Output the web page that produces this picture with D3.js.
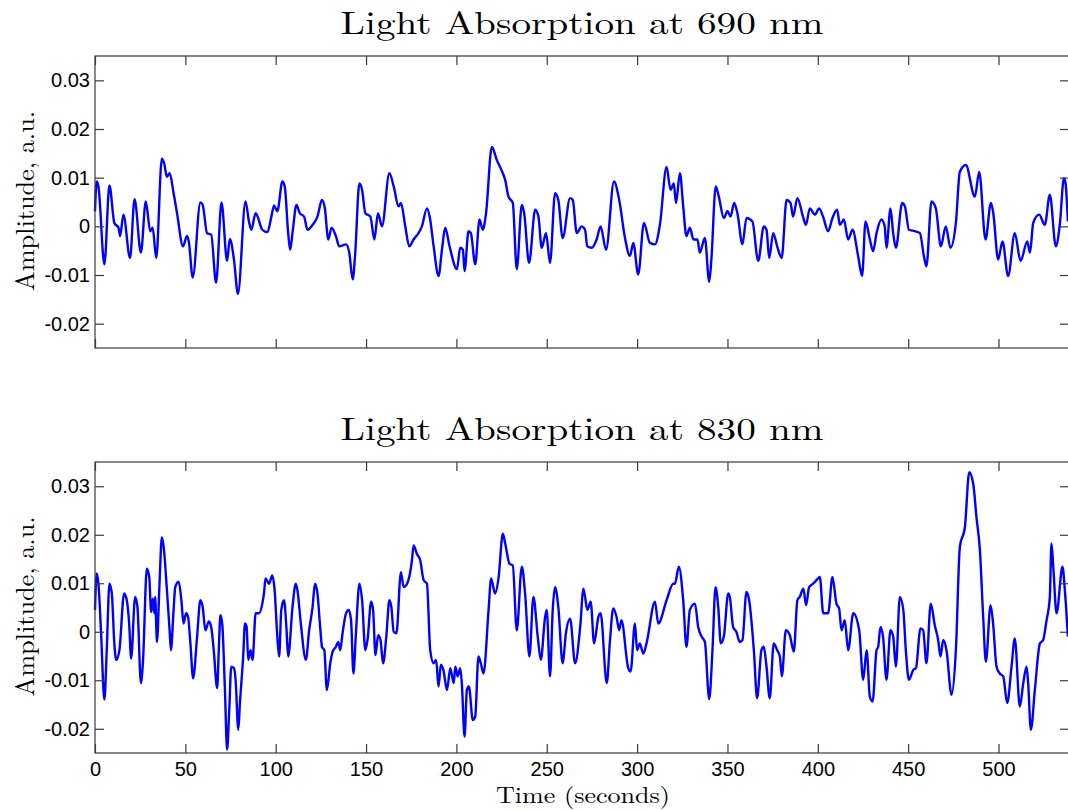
<!DOCTYPE html>
<html>
<head>
<meta charset="utf-8">
<script src="https://cdn.jsdelivr.net/npm/d3@7"></script>
<style>
  body { margin: 0; background: #fff; }
  svg { display: block; }
</style>
</head>
<body>
<svg id="chart" width="1068" height="810"></svg>
<script>
// time in seconds, amplitude in thousandths of a.u.
const t690 = [0,0.9,1.9,5.2,8.0,10.7,13.0,13.9,15.7,19.4,21.9,25.4,28.1,30.6,31.9,33.9,37.0,38.3,39.8,41.3,43.5,45.4,48.7,50.9,51.9,54.1,58.3,59.6,62.0,64.3,67.0,70.0,73.1,74.6,76.9,79.1,83.3,85.2,86.5,88.9,92.6,95.4,97.6,99.1,100.9,103.7,105.0,106.9,108.0,109.4,111.5,113.3,115.7,117.6,120.4,123.1,125.6,127.2,129.1,130.9,133.3,135.2,138.9,140.7,142.6,143.9,146.3,147.8,149.6,152.4,154.6,156.6,158.8,162.9,165.3,168.0,169.3,171.7,173.9,176.3,179.0,180.9,183.7,185.2,187.4,190.1,192.0,193.8,196.2,200.3,202.1,203.6,204.5,206.7,208.0,210.4,212.8,214.6,216.4,219.6,222.4,225.7,227.0,228.8,231.2,233.4,236.2,237.5,240.2,243.6,245.4,247.2,249.6,251.8,254.6,256.4,258.8,262.9,264.4,266.6,269.3,271.2,272.4,274.9,277.6,279.8,282.8,287.2,290.1,293.3,296.0,297.9,300.6,303.8,307.1,309.9,312.6,316.3,318.5,320.3,321.5,323.7,325.5,327.3,329.2,331.2,333.4,334.7,337.5,339.9,341.1,343.5,345.2,348.0,350.0,351.7,353.7,355.5,358.3,360.5,363.8,367.0,370.1,371.6,373.1,375.3,377.5,380.0,382.7,384.9,386.3,388.7,391.8,393.4,395.6,398.4,400.7,402.9,405.7,408.1,410.7,412.2,414.4,416.8,419.2,422.3,424.5,426.4,428.8,430.6,432.5,435.2,437.0,438.0,440.2,441.7,443.2,446.7,448.2,450.4,453.7,456.5,458.7,460.1,462.9,465.3,468.1,470.8,473.4,476.4,478.6,481.9,486.9,489.3,492.8,495.8,497.1,499.8,502.2,505.3,509.0,512.2,515.9,517.4,519.2,522.5,525.6,528.4,531.7,533.9,536.2,537.1,538.4];
const amp690 = [3.1,9.2,8.2,-7.8,8.4,0.7,-0.3,-2.0,2.4,-6.5,5.6,-5.4,5.1,-1.0,-0.3,-6.5,13.9,12.9,10.2,10.9,6.8,2.7,-4.1,-2.0,-3.1,-10.5,4.9,4.4,-1.4,-1.7,-11.6,4.9,-7.1,-2.6,-6.8,-13.9,5.1,1.0,-0.7,2.7,-0.7,-1.2,2.0,4.3,3.1,9.2,8.2,-1.4,-4.8,-1.0,4.4,2.7,2.0,-0.7,0.3,2.0,5.4,3.7,-2.7,-0.3,-2.0,-4.1,-3.7,-5.4,-10.9,-6.1,8.8,7.5,2.7,2.0,-2.7,2.7,0,10.9,8.2,4.1,4.8,0,-4.1,-2.7,-1.4,0,3.7,2.0,-4.1,-10.2,-4.8,-0.3,-4.1,-8.8,-4.4,-4.8,-9.2,-1.0,-1.4,-7.8,1.4,-0.7,2.7,16.3,13.6,10.9,9.5,6.1,4.8,-8.8,4.4,2.7,-7.5,3.4,2.0,-4.4,-1.4,-7.5,6.8,5.4,-2.4,5.8,5.4,-1.4,0,-0.7,-4.1,-4.4,-2.7,0,-4.8,9.2,5.4,-2.4,-6.1,-3.4,-9.9,0.7,-3.4,-3.7,0.3,12.2,7.5,8.8,4.8,10.9,4.1,-2.0,-0.3,-2.7,-2.7,-5.4,-2.4,-11.4,-6.8,8.2,6.1,1.7,3.1,2.0,4.8,2.7,-3.7,1.7,1.0,-7.1,0,-0.7,-6.5,-1.4,-4.1,-6.5,5.4,4.8,2.0,5.8,2.0,0.3,3.7,2.4,3.7,2.0,-1.0,1.7,3.4,0.3,1.4,-2.7,-0.7,-6.1,-10.2,1.0,-2.7,-5.1,-1.4,1.4,0,-4.4,3.7,-1.4,-4.4,4.8,4.1,-0.7,-1.0,-1.4,-6.1,-8.2,5.1,3.7,-4.1,0,-4.4,0.7,11.2,12.6,6.1,11.2,-2.7,4.8,2.7,-6.8,-3.1,-10.2,-1.4,-7.1,-3.1,-5.4,0.7,2.4,0.3,6.5,-4.1,0.3,9.9,8.8,1.0];

const t830 = [0,0.9,1.9,3.3,5.2,6.5,8.0,9.3,10.7,11.7,13.5,16.1,17.6,18.9,20.0,22.2,23.5,25.4,26.5,28.7,30.0,31.1,32.0,32.8,33.3,34.3,35.7,37.0,38.0,39.8,41.3,42.0,43.5,44.4,46.3,47.8,49.0,50.4,51.5,52.8,54.3,56.5,58.3,59.6,61.1,63.0,64.3,65.7,67.6,68.5,69.4,70.4,71.9,73.1,74.3,75.4,76.9,77.8,79.3,80.2,82.0,83.0,83.9,84.8,86.1,87.2,88.9,90.7,92.6,93.5,94.4,96.3,98.1,99.4,100.9,101.9,103.1,104.6,105.9,106.9,109.3,111.1,112.0,113.9,116.7,118.5,120.4,121.7,123.1,124.6,125.6,126.9,128.3,130.2,131.5,133.3,134.6,135.7,137.0,138.9,140.4,141.7,143.0,144.4,146.3,147.8,149.6,150.9,152.8,153.9,155.2,156.7,158.0,159.4,161.2,162.9,164.0,165.3,166.8,169.3,170.8,172.7,175.4,176.3,178.1,180.0,181.9,183.7,185.5,187.4,188.8,190.1,191.4,192.8,194.8,196.6,198.5,199.4,200.7,202.1,203.0,204.5,205.8,206.9,209.1,210.4,212.2,213.5,215.0,217.8,219.2,221.4,223.3,225.7,227.0,229.4,231.2,233.4,236.2,238.0,240.4,242.6,245.0,246.7,249.1,250.0,251.8,253.3,254.6,256.4,258.8,260.6,262.9,265.7,268.5,270.3,272.5,274.3,276.2,278.6,279.8,283.2,285.0,286.8,288.6,290.1,291.3,295.1,296.4,298.8,300.0,301.5,303.4,305.2,309.9,311.7,316.3,320.0,320.9,323.1,325.5,327.3,329.2,332.0,333.8,335.7,337.5,339.9,341.7,343.4,344.9,346.3,348.0,350.4,351.3,353.1,354.9,356.8,358.3,360.5,362.0,364.6,366.4,368.8,370.1,371.6,373.4,375.6,377.5,379.0,380.1,382.3,384.5,386.7,388.7,390.0,392.0,393.5,395.2,397.4,400.2,401.1,403.0,405.7,408.1,410.3,411.8,413.1,414.9,416.8,419.6,422.9,425.1,427.0,428.8,430.3,432.5,433.4,434.7,436.1,438.0,440.2,441.7,443.2,445.4,447.3,448.7,450.4,452.8,454.3,456.8,458.3,460.1,462.5,464.7,466.6,467.9,469.4,471.2,474.0,476.4,478.6,481.4,483.8,486.0,487.8,489.7,491.5,493.0,495.6,497.0,498.9,500.7,502.6,504.8,507.2,509.0,511.8,513.7,515.5,516.4,517.9,520.1,522.9,524.7,526.6,528.4,529.3,530.3,532.1,535.4,536.7,538.4];
const amp830 = [4.5,12.0,9.9,0.3,-14.0,-3.8,9.9,7.9,-2.4,-5.8,-3.8,7.9,6.5,1.7,-5.5,7.2,5.1,-10.6,-6.5,13.0,11.3,4.1,6.8,3.8,7.2,-2.1,9.9,19.5,17.5,8.6,0.3,-3.8,4.5,9.2,10.3,6.5,1.7,3.8,3.1,-2.4,-9.6,-1.0,6.5,5.1,0.3,2.1,1.0,-3.8,-11.6,-3.8,3.4,1.7,-12.0,-24.3,-16.1,-7.2,-7.5,-9.9,-20.2,-14.7,-5.1,1.7,1.0,-5.8,-3.8,-5.8,3.8,3.8,5.8,7.9,11.0,9.9,11.6,8.6,-1.0,-5.1,4.5,6.5,1.0,-5.1,5.1,9.9,8.6,1.7,-5.8,0.3,5.1,9.9,7.9,1.0,-3.1,-3.8,-12.0,-6.5,-4.1,-3.1,-2.1,-3.8,-0.3,3.8,4.5,2.4,-8.6,-0.3,9.9,6.5,-3.8,-1.4,6.2,4.5,-4.8,-0.7,-1.7,-6.5,-1.0,6.5,5.1,0,-0.3,12.3,9.2,9.9,14.7,17.8,16.1,14.7,10.6,9.9,-3.8,-6.5,-5.8,-11.3,-6.8,-7.9,-12.0,-7.5,-10.6,-7.2,-9.2,-7.5,-10.6,-21.6,-12.0,-11.3,-18.2,-17.5,-5.1,-6.5,-8.6,4.5,11.0,7.9,11.0,20.2,18.2,14.0,13.7,0.3,13.4,7.9,-5.1,7.2,-1.0,-5.8,3.1,4.5,-9.2,4.5,9.2,5.1,-6.5,-0.3,2.7,-6.5,1.0,8.9,4.5,6.2,-2.4,3.1,3.8,-10.6,-1.7,4.8,3.1,0.3,2.4,-7.5,-8.2,1.7,-3.8,-2.4,-4.5,-2.4,6.2,1.7,6.5,9.9,9.9,13.4,6.5,-3.1,4.5,5.8,1.0,-1.0,-2.1,-13.9,-3.8,9.2,5.1,-2.4,-1.0,7.9,7.2,1.0,0,-2.1,-1.7,8.2,6.5,-3.8,-13.7,-3.8,-3.1,-7.2,-13.7,-2.4,-3.8,-5.1,-9.2,0.3,-0.7,-4.1,6.5,7.2,8.9,5.5,9.2,9.9,11.0,11.3,3.8,3.8,11.3,5.8,4.8,0.3,2.4,-3.8,3.8,0.3,-9.9,-3.8,-13.4,-14.4,-3.8,-3.1,1.0,-1.0,-9.9,0.3,-1.0,-7.2,7.2,4.5,-3.8,-9.9,-7.9,-7.5,0.7,0.3,-6.5,5.8,1.4,-1.7,-5.1,-1.7,-3.8,-13.0,-3.8,17.5,21.6,32.9,30.5,23.6,16.8,3.1,-6.2,5.5,1.7,-7.2,-8.6,-9.2,-14.7,-7.2,-1.4,-15.4,-10.6,-7.2,-10.6,-20.2,-12.0,-2.4,-1.7,2.4,7.2,18.2,13.4,3.8,13.4,8.6,-1.0];

const xTicks = [0, 50, 100, 150, 200, 250, 300, 350, 400, 450, 500];
const yTicks = [-20, -10, 0, 10, 20, 30];
const yTickLabels = ["-0.02", "-0.01", "0", "0.01", "0.02", "0.03"];
const titles = ["Light Absorption at 690 nm", "Light Absorption at 830 nm"];

const svg = d3.select("#chart");
const axisColor = "#3a3a3a";
const serif = "'Latin Modern Roman','CMU Serif','Liberation Serif','Times New Roman',serif";
const sans = "'Liberation Sans',Arial,Helvetica,sans-serif";

const x = d3.scaleLinear().domain([0, 539]).range([95, 1069]);

const panels = [
  { t: t690, a: amp690, top: 56, bottom: 348, title: titles[0], titleY: 34, showX: false },
  { t: t830, a: amp830, top: 462, bottom: 753, title: titles[1], titleY: 440, showX: true }
];

panels.forEach(p => {
  const y = d3.scaleLinear().domain([-25, 35]).range([p.bottom, p.top]);
  const g = svg.append("g");
  const data = p.t.map((t, i) => ({ t, a: p.a[i] }));

  g.append("path")
    .datum(data)
    .attr("fill", "none")
    .attr("stroke", "#0000ff")
    .attr("stroke-width", 2.4)
    .attr("stroke-linejoin", "round")
    .attr("d", d3.line().x(d => x(d.t)).y(d => y(d.a)).curve(d3.curveMonotoneX));

  // box
  g.append("rect")
    .attr("x", x(0)).attr("y", p.top)
    .attr("width", x(539) - x(0)).attr("height", p.bottom - p.top)
    .attr("fill", "none").attr("stroke", axisColor).attr("stroke-width", 1.2);

  const left = g.append("g").attr("transform", `translate(${x(0)},0)`)
    .call(d3.axisLeft(y).tickValues(yTicks).tickSize(-9).tickSizeOuter(0).tickPadding(5)
      .tickFormat((d, i) => yTickLabels[i]));
  const right = g.append("g").attr("transform", `translate(${x(539)},0)`)
    .call(d3.axisRight(y).tickValues(yTicks).tickSize(-9).tickSizeOuter(0).tickFormat(""));
  const topAx = g.append("g").attr("transform", `translate(0,${p.top})`)
    .call(d3.axisTop(x).tickValues(xTicks).tickSize(-9).tickSizeOuter(0).tickFormat(""));
  const bottom = g.append("g").attr("transform", `translate(0,${p.bottom})`)
    .call(d3.axisBottom(x).tickValues(xTicks).tickSize(-9).tickSizeOuter(0).tickPadding(9)
      .tickFormat(p.showX ? d3.format("d") : ""));

  [left, right, topAx, bottom].forEach(a => {
    a.select(".domain").remove();
    a.selectAll(".tick line").attr("stroke", axisColor).attr("stroke-width", 1.2);
    a.selectAll(".tick text").attr("fill", "#000").style("font-family", sans).style("font-size", "20px");
  });

  g.append("text")
    .attr("x", 582).attr("y", p.titleY)
    .attr("text-anchor", "middle")
    .attr("textLength", 483).attr("lengthAdjust", "spacingAndGlyphs")
    .style("font-family", serif).style("font-size", "32px")
    .text(p.title);

  g.append("text")
    .attr("transform", `translate(34,${(p.top + p.bottom) / 2 - 1}) rotate(-90)`)
    .attr("text-anchor", "middle")
    .attr("textLength", 180).attr("lengthAdjust", "spacingAndGlyphs")
    .style("font-family", serif).style("font-size", "26px")
    .text("Amplitude, a.u.");
});

svg.append("text")
  .attr("x", 583).attr("y", 803)
  .attr("text-anchor", "middle")
  .attr("textLength", 174).attr("lengthAdjust", "spacingAndGlyphs")
  .style("font-family", serif).style("font-size", "23px")
  .text("Time (seconds)");
</script>
</body>
</html>
